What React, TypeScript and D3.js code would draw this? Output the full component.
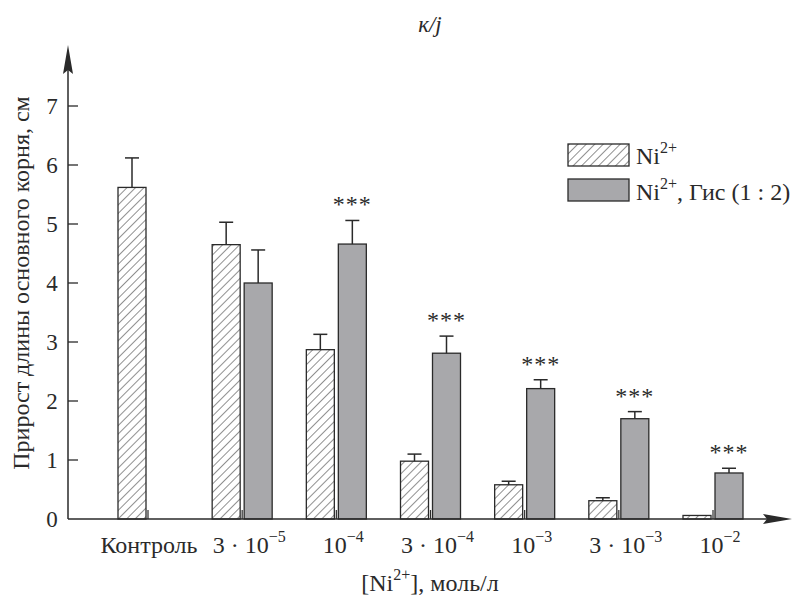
import React from "react";
import * as d3 from "d3";

const categories = ["ctrl", "3e-5", "1e-4", "3e-4", "1e-3", "3e-3", "1e-2"];
const niValues = [5.62, 4.65, 2.87, 0.98, 0.58, 0.31, 0.06];
const niErrors = [0.5, 0.38, 0.26, 0.12, 0.06, 0.05, 0];
const gisValues = [null, 4.0, 4.66, 2.81, 2.21, 1.7, 0.78];
const gisErrors = [null, 0.56, 0.4, 0.29, 0.15, 0.12, 0.08];
const gisStars = [false, false, true, true, true, true, true];
const yTicks = [0, 1, 2, 3, 4, 5, 6, 7];

const FONT = '"Times New Roman", "Noto Serif", serif';

function XLabel({ i }: { i: number }) {
  const parts: [string, string | null][] = [
    ["Контроль", null],
    ["3 · 10", "−5"],
    ["10", "−4"],
    ["3 · 10", "−4"],
    ["10", "−3"],
    ["3 · 10", "−3"],
    ["10", "−2"],
  ];
  const [base, sup] = parts[i];
  return (
    <>
      {base}
      {sup && (
        <tspan dy={-11} fontSize={16}>
          {sup}
        </tspan>
      )}
    </>
  );
}

export default function App() {
  const W = 792,
    H = 599;
  const y = d3.scaleLinear().domain([0, 7]).range([519, 106]);
  const x = d3.scalePoint<string>().domain(categories).range([148, 713]);
  const barW = 28;
  const y0 = y(0);
  const ink = "#2a2a2a";
  const gray = "#a8a8ab";

  return (
    <svg
      width={W}
      height={H}
      style={{ position: "absolute", left: 0, top: 0, background: "#fff", fontFamily: FONT }}
    >
      <defs>
        <pattern id="hatch" patternUnits="userSpaceOnUse" width={6} height={6} patternTransform="rotate(45)">
          <rect width={6} height={6} fill="#fff" />
          <line x1={0} y1={0} x2={0} y2={6} stroke="#333" strokeWidth={1.1} />
        </pattern>
      </defs>

      {/* title */}
      <text x={430} y={32} fontSize={23} fontStyle="italic" textAnchor="middle" fill={ink}>
        к/j
      </text>

      {/* bars */}
      {categories.map((c, i) => {
        const cx = x(c)!;
        const hv = niValues[i];
        const he = niErrors[i];
        const gv = gisValues[i];
        const ge = gisErrors[i];
        return (
          <g key={c}>
            <rect
              x={cx - 30}
              y={y(hv)}
              width={barW}
              height={y0 - y(hv)}
              fill="url(#hatch)"
              stroke={ink}
              strokeWidth={1.3}
            />
            {he > 0 && (
              <g stroke={ink} strokeWidth={1.5}>
                <line x1={cx - 16} x2={cx - 16} y1={y(hv)} y2={y(hv + he)} />
                <line x1={cx - 23} x2={cx - 9} y1={y(hv + he)} y2={y(hv + he)} />
              </g>
            )}
            <line x1={cx} x2={cx} y1={y0 - 9} y2={y0} stroke={ink} strokeWidth={1.2} />
            {gv != null && (
              <>
                <rect
                  x={cx + 2}
                  y={y(gv)}
                  width={barW}
                  height={y0 - y(gv)}
                  fill={gray}
                  stroke={ink}
                  strokeWidth={1.3}
                />
                <g stroke={ink} strokeWidth={1.5}>
                  <line x1={cx + 16} x2={cx + 16} y1={y(gv)} y2={y(gv + (ge as number))} />
                  <line x1={cx + 9} x2={cx + 23} y1={y(gv + (ge as number))} y2={y(gv + (ge as number))} />
                </g>
                {gisStars[i] && (
                  <text
                    x={cx + 16}
                    y={y(gv + (ge as number)) - 8}
                    textAnchor="middle"
                    fontSize={24}
                    letterSpacing={1}
                    fill={ink}
                  >
                    ***
                  </text>
                )}
              </>
            )}
            <text x={cx + (i === 0 ? 1 : 7)} y={553} textAnchor="middle" fontSize={24} fill={ink}>
              <XLabel i={i} />
            </text>
          </g>
        );
      })}

      {/* axes */}
      <line x1={68} x2={68} y1={y0} y2={60} stroke={ink} strokeWidth={1.5} />
      <path d="M68,45 L63,74 L68,70 L73,74 Z" fill={ink} />
      <line x1={68} x2={780} y1={y0} y2={y0} stroke={ink} strokeWidth={1.5} />
      <path d="M792,519 L763,514 L767,519 L763,524 Z" fill={ink} />
      {yTicks.map((t) => (
        <g key={t}>
          {t > 0 && <line x1={68} x2={78} y1={y(t)} y2={y(t)} stroke={ink} strokeWidth={1.3} />}
          <text x={52} y={y(t) + 8} textAnchor="middle" fontSize={23} fill={ink}>
            {t}
          </text>
        </g>
      ))}

      {/* axis titles */}
      <text
        transform={`translate(29,${283}) rotate(-90)`}
        textAnchor="middle"
        fontSize={24}
        fill={ink}
      >
        Прирост длины основного корня, см
      </text>
      <text x={430} y={591} textAnchor="middle" fontSize={24} fill={ink}>
        [Ni
        <tspan dy={-11} fontSize={16}>
          2+
        </tspan>
        <tspan dy={11}>], моль/л</tspan>
      </text>

      {/* legend */}
      <rect x={568} y={144} width={61} height={22} fill="url(#hatch)" stroke={ink} strokeWidth={1.3} />
      <rect x={568} y={179} width={61} height={22} fill={gray} stroke={ink} strokeWidth={1.3} />
      <text x={636} y={164} fontSize={24} fill={ink}>
        Ni
        <tspan dy={-11} fontSize={16}>
          2+
        </tspan>
      </text>
      <text x={636} y={200} fontSize={24} fill={ink}>
        Ni
        <tspan dy={-11} fontSize={16}>
          2+
        </tspan>
        <tspan dy={11}>, Гис (1 : 2)</tspan>
      </text>
    </svg>
  );
}
